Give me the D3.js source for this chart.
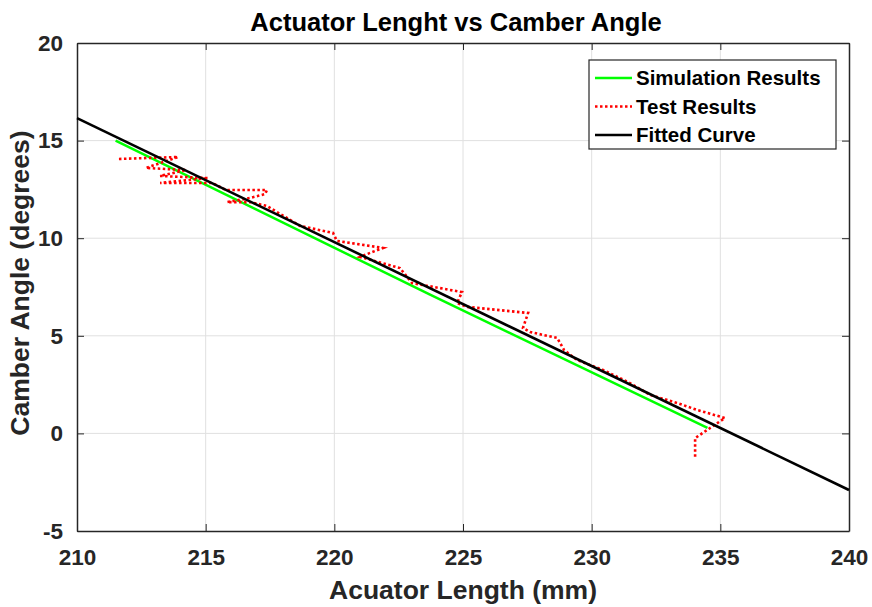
<!DOCTYPE html>
<html>
<head>
<meta charset="utf-8">
<script src="https://cdn.jsdelivr.net/npm/d3@7"></script>
<style>
  html, body { margin: 0; padding: 0; background: #fff; }
  svg { display: block; }
  text { font-family: "Liberation Sans", Arial, sans-serif; font-weight: bold; }
</style>
</head>
<body>
<svg id="chart" width="872" height="607"></svg>
<script>
// Axis ticks
const xTicks = [210, 215, 220, 225, 230, 235, 240];
const yTicks = [-5, 0, 5, 10, 15, 20];

// Simulation results (actuator length mm, camber deg)
const simLength = [211.5, 223.7, 234.5];
const simCamber = [15.0, 7.12, 0.28];

// Test results (measured, with stepping/hysteresis)
const testLength = [211.63, 213.93, 212.68, 214.24, 213.23, 215.09, 213.23, 215.25,
  215.79, 217.38, 217.31, 216.72, 215.83, 216.72, 217.38, 218.67, 219.95, 220.10,
  221.89, 221.47, 221.00, 222.55, 223.02, 224.96, 224.77, 225.16, 227.53, 227.33,
  227.61, 228.66, 228.93, 229.43, 230.44, 231.49, 232.27, 233.32, 234.10, 235.18,
  234.02, 234.02];
const testCamber = [14.06, 14.16, 13.60, 13.49, 13.19, 13.08, 12.83, 12.83,
  12.47, 12.47, 12.26, 12.06, 11.85, 11.85, 11.65, 10.63, 10.27, 9.86,
  9.50, 9.29, 9.04, 8.47, 7.70, 7.24, 6.68, 6.48, 6.17, 5.40,
  5.19, 4.89, 4.27, 3.76, 3.25, 2.58, 1.97, 1.56, 1.20, 0.79,
  -0.24, -1.21];

// Fitted linear curve
const fitLength = [210, 240];
const fitCamber = [16.15, -2.9];

const legendLabels = ["Simulation Results", "Test Results", "Fitted Curve"];

const svg = d3.select("#chart");
const m = { left: 77, right: 849, top: 43, bottom: 531 };
const axisColor = "#262626";

const x = d3.scaleLinear().domain([210, 240]).range([m.left, m.right]);
const y = d3.scaleLinear().domain([-5, 20]).range([m.bottom, m.top]);

// Grid
const grid = svg.append("g");
grid.selectAll(".gx").data(xTicks.slice(1, -1)).join("line")
  .attr("x1", d => x(d)).attr("x2", d => x(d))
  .attr("y1", m.top).attr("y2", m.bottom)
  .attr("stroke", "#e0e0e0").attr("stroke-width", 1);
grid.selectAll(".gy").data(yTicks.slice(1, -1)).join("line")
  .attr("y1", d => y(d)).attr("y2", d => y(d))
  .attr("x1", m.left).attr("x2", m.right)
  .attr("stroke", "#e0e0e0").attr("stroke-width", 1);

// Axes (box with inward ticks on all sides); plain hyphen for negatives
const fmt = d => String(d);
const tickLen = 7;
const bottomAxis = d3.axisBottom(x).tickValues(xTicks).tickFormat(fmt).tickSizeInner(-tickLen).tickSizeOuter(0).tickPadding(20);
const leftAxis = d3.axisLeft(y).tickValues(yTicks).tickFormat(fmt).tickSizeInner(-tickLen).tickSizeOuter(0).tickPadding(14);
const topAxis = d3.axisTop(x).tickValues(xTicks).tickSizeInner(-tickLen).tickSizeOuter(0).tickFormat("");
const rightAxis = d3.axisRight(y).tickValues(yTicks).tickSizeInner(-tickLen).tickSizeOuter(0).tickFormat("");

function styleAxis(g) {
  g.select(".domain").attr("stroke", axisColor).attr("stroke-width", 1.5);
  g.selectAll(".tick line").attr("stroke", axisColor).attr("stroke-width", 1);
  g.selectAll(".tick text").attr("fill", axisColor)
    .style("font-size", "22.5px").style("font-family", "'Liberation Sans', Arial, sans-serif").style("font-weight", "bold");
}

const gx = svg.append("g").attr("transform", `translate(0,${m.bottom})`).call(bottomAxis).call(styleAxis);
gx.selectAll(".tick text").attr("dy", "0.6em");
svg.append("g").attr("transform", `translate(${m.left},0)`).call(leftAxis).call(styleAxis);
svg.append("g").attr("transform", `translate(0,${m.top})`).call(topAxis).call(styleAxis);
svg.append("g").attr("transform", `translate(${m.right},0)`).call(rightAxis).call(styleAxis);

// Data lines
const plot = svg.append("g");
const line = d3.line().x(d => x(d[0])).y(d => y(d[1]));

plot.append("path")
  .datum(simLength.map((v, i) => [v, simCamber[i]]))
  .attr("d", line).attr("fill", "none")
  .attr("stroke", "#00ff00").attr("stroke-width", 2.5);

plot.append("path")
  .datum(testLength.map((v, i) => [v, testCamber[i]]))
  .attr("d", line).attr("fill", "none")
  .attr("stroke", "#ff0000").attr("stroke-width", 2.6)
  .attr("stroke-dasharray", "2.5,2.5");

plot.append("path")
  .datum(fitLength.map((v, i) => [v, fitCamber[i]]))
  .attr("d", line).attr("fill", "none")
  .attr("stroke", "#000").attr("stroke-width", 2.6);

// Title and axis labels
svg.append("text").attr("x", 456).attr("y", 31)
  .attr("text-anchor", "middle").style("font-size", "25.5px").attr("fill", "#000")
  .text("Actuator Lenght vs Camber Angle");

svg.append("text").attr("x", 463).attr("y", 599)
  .attr("text-anchor", "middle").style("font-size", "26.5px").attr("fill", axisColor)
  .text("Acuator Length (mm)");

svg.append("text")
  .attr("transform", `translate(29,${283}) rotate(-90)`)
  .attr("text-anchor", "middle").style("font-size", "26.5px").attr("fill", axisColor)
  .text("Camber Angle (degrees)");

// Legend
const lg = svg.append("g");
lg.append("rect").attr("x", 589).attr("y", 60).attr("width", 247).attr("height", 89)
  .attr("fill", "#fff").attr("stroke", axisColor).attr("stroke-width", 1.2);
const legendStyles = [
  { stroke: "#00ff00", width: 2.5, dash: null },
  { stroke: "#ff0000", width: 2.6, dash: "2.5,2.5" },
  { stroke: "#000", width: 2.6, dash: null }
];
legendLabels.forEach((lab, i) => {
  const cy = 78 + i * 28.5;
  const s = legendStyles[i];
  lg.append("line").attr("x1", 595).attr("x2", 632).attr("y1", cy).attr("y2", cy)
    .attr("stroke", s.stroke).attr("stroke-width", s.width)
    .attr("stroke-dasharray", s.dash);
  lg.append("text").attr("x", 636).attr("y", cy).attr("dy", "0.35em")
    .style("font-size", "20.5px").attr("fill", "#000").text(lab);
});
</script>
</body>
</html>
